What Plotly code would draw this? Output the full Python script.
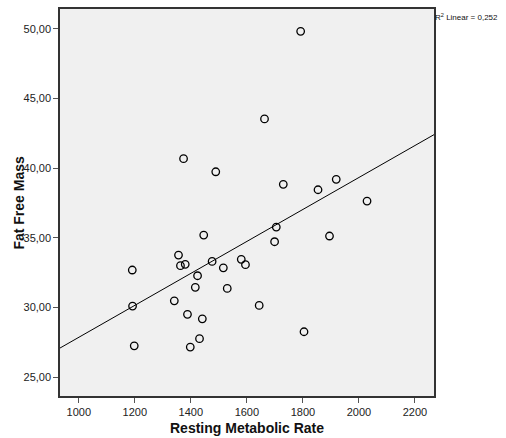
import plotly.graph_objects as go

# Data
rmr = [1792, 1663, 1374, 1489, 1730, 1854, 1919, 2029, 1705, 1446, 1895, 1699,
       1356, 1363, 1380, 1476, 1580, 1595, 1516, 1424, 1191, 1416, 1530, 1341,
       1192, 1644, 1388, 1441, 1804, 1198, 1431, 1398]
ffm = [49.81, 43.52, 40.67, 39.73, 38.83, 38.44, 39.19, 37.63, 35.76, 35.19, 35.12, 34.71,
       33.75, 32.99, 33.09, 33.30, 33.45, 33.06, 32.84, 32.27, 32.68, 31.44, 31.36, 30.47,
       30.09, 30.14, 29.50, 29.18, 28.25, 27.24, 27.75, 27.15]

fit_slope = 0.01147
fit_intercept = 16.38
r2_text = "R<sup>2</sup> Linear = 0,252"

x_range = [933, 2268]
y_range = [23.64, 51.41]
x_ticks = [1000, 1200, 1400, 1600, 1800, 2000, 2200]
y_ticks = [25, 30, 35, 40, 45, 50]
y_ticklabels = ["25,00", "30,00", "35,00", "40,00", "45,00", "50,00"]

fig = go.Figure()
fig.add_trace(go.Scatter(
    x=x_range, y=[fit_intercept + fit_slope * v for v in x_range],
    mode="lines", line=dict(color="black", width=1), hoverinfo="skip"))
fig.add_trace(go.Scatter(
    x=rmr, y=ffm, mode="markers", cliponaxis=False,
    marker=dict(symbol="circle-open", size=7.5, color="black", line=dict(width=1.3))))

font = "Liberation Sans, Arial, sans-serif"
fig.update_layout(
    width=506, height=438,
    margin=dict(l=60, r=72, t=9, b=42, autoexpand=False),
    paper_bgcolor="white", plot_bgcolor="#F0F0F0",
    showlegend=False,
    font=dict(family=font, size=11, color="#222222"),
    xaxis=dict(range=x_range, tickvals=x_ticks, showgrid=False, zeroline=False,
               ticks="outside", ticklen=5, tickcolor="#555555", tickwidth=1,
               showline=True, linecolor="#333333", linewidth=1.5, mirror=True,
               tickfont=dict(size=11, color="#222222")),
    yaxis=dict(range=y_range, tickvals=y_ticks, ticktext=y_ticklabels,
               showgrid=False, zeroline=False,
               ticks="outside", ticklen=5, tickcolor="#555555", tickwidth=1,
               showline=True, linecolor="#333333", linewidth=1.5, mirror=True,
               tickfont=dict(size=11, color="#222222")),
    annotations=[
        dict(text="<b>Resting Metabolic Rate</b>", xref="paper", yref="paper",
             x=0.5, y=-0.083, xanchor="center", yanchor="middle", showarrow=False,
             font=dict(size=14, color="#111111", family=font)),
        dict(text="<b>Fat Free Mass</b>", xref="paper", yref="paper",
             x=-0.112, y=0.5, xanchor="center", yanchor="middle", textangle=-90,
             showarrow=False, font=dict(size=14, color="#111111", family=font)),
        dict(text=r2_text, xref="paper", yref="paper", x=0.998, y=0.998,
             xanchor="left", yanchor="top", showarrow=False,
             font=dict(size=8, color="#111111", family=font)),
    ],
)

fig.write_html("out.html", config={"displayModeBar": False},
               post_script="document.body.style.margin='0';document.body.style.overflow='hidden';")
